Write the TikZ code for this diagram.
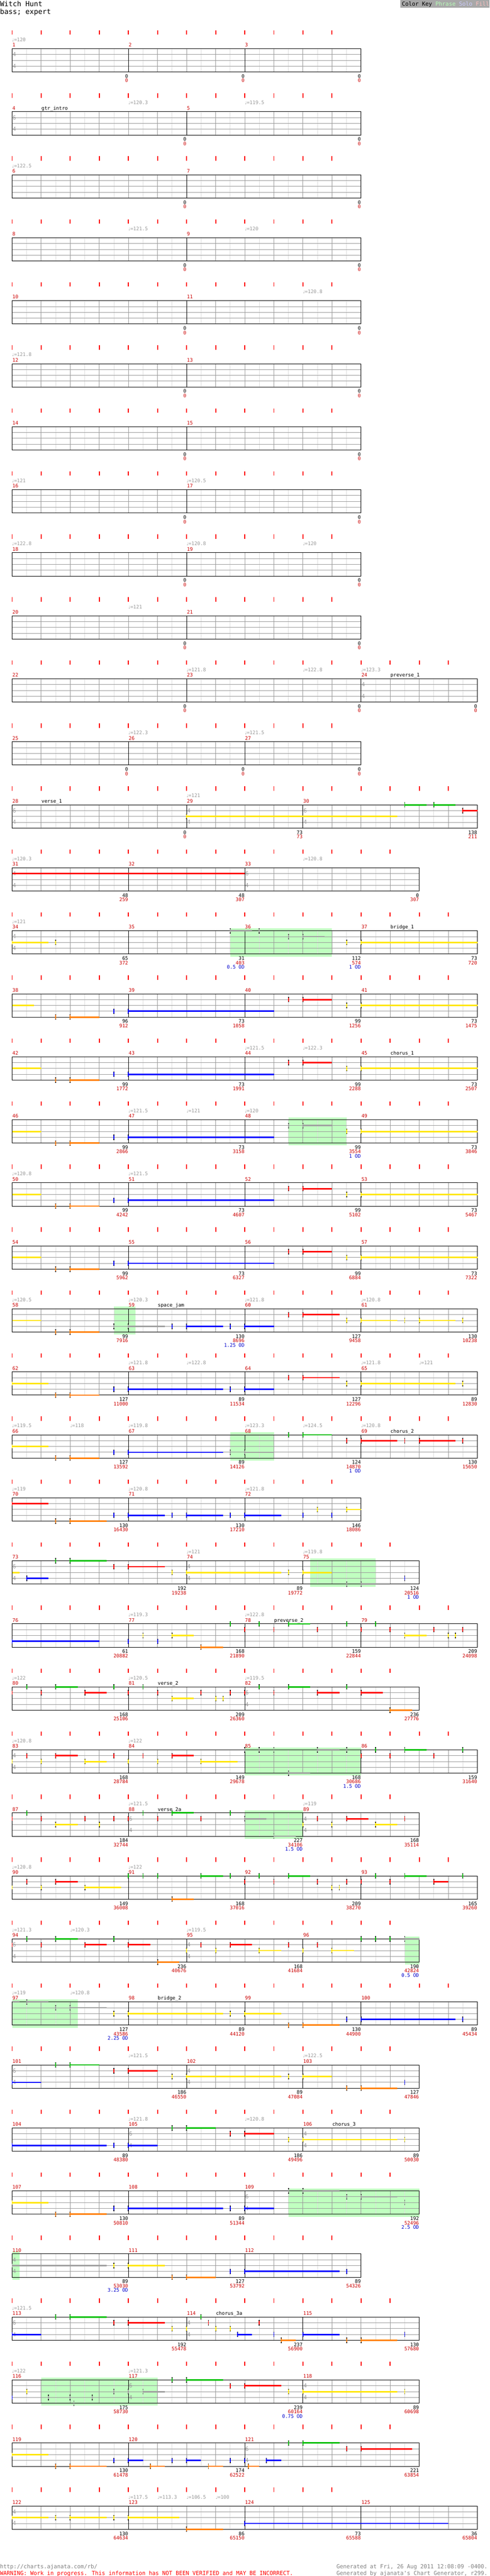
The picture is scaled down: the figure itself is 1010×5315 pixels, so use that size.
\documentclass[tikz,border=0pt]{standalone}
\usepackage{fontspec}
\newfontfamily\cf{DejaVu Sans Mono}
\newfontfamily\symf{DejaVu Sans}
\definecolor{gL}{HTML}{DDDDDD}
\definecolor{gM}{HTML}{999999}
\definecolor{tR}{HTML}{FF0000}
\definecolor{mR}{HTML}{CC0000}
\definecolor{gT}{HTML}{999999}
\definecolor{oB}{HTML}{0000CC}
\definecolor{phG}{HTML}{C0FFC0}
\definecolor{nG}{HTML}{00C000}
\definecolor{nR}{HTML}{FF0000}
\definecolor{nY}{HTML}{FFE600}
\definecolor{nB}{HTML}{0000FF}
\definecolor{nO}{HTML}{FF8000}
\definecolor{nS}{HTML}{A0A0A0}
\definecolor{keyBg}{HTML}{A8A8A8}
\definecolor{keyPh}{HTML}{B8FFB8}
\definecolor{keySo}{HTML}{CCCCFF}
\definecolor{keyFi}{HTML}{FFC0C0}
\definecolor{ftG}{HTML}{808080}
\tikzset{
 glight/.style={draw=gL, line width=1pt},
 gbeat/.style={draw=gM, line width=1pt},
 frame/.style={draw=black, line width=1pt},
 tickr/.style={draw=tR, line width=2pt},
 small/.style={inner sep=0pt, font=\cf\fontsize{10}{10}\selectfont},
 mnum/.style={small, anchor=base west, text=mR},
 tempo/.style={small, anchor=base west, text=gT},
 sect/.style={small, anchor=base west, text=black},
 tsig/.style={anchor=west, inner sep=0pt, text=gT, font=\cf\fontsize{11.5}{11.5}\selectfont},
 bnum/.style={small, anchor=base east, text=black},
 rnum/.style={small, anchor=base east, text=mR},
 onum/.style={small, anchor=base east, text=oB},
 phr/.style={fill=phG},
}
\newcommand\chRow[3]{\pgfmathsetmacro\ry{100.5+130*#1}\pgfmathsetmacro\rx{25+60*#2}\def\nb{#2}\def\nt{#3}}
\newcommand\chStaff{%
 \pgfmathtruncatemacro\nhb{2*\nb-1}%
 \foreach \i in {1,3,...,\nhb} \draw[glight] ({25+30*\i},\ry) -- ++(0,48);%
 \pgfmathtruncatemacro\nbm{\nb-1}%
 \foreach \i in {1,...,\nbm} \draw[gbeat] ({25+60*\i},\ry) -- ++(0,48);%
 \foreach \j in {12,24,36} \draw[gbeat] (25,\ry+\j) -- (\rx,\ry+\j);%
 \draw[frame] (25,\ry) rectangle (\rx,\ry+48);%
 \pgfmathtruncatemacro\ntm{\nt-1}%
 \foreach \i in {0,...,\ntm} \draw[tickr] ({25+60*\i},\ry-38) -- ++(0,9);%
}
\newcommand\chP[2]{\fill[phr] ({25+60*(#1)},\ry-5) rectangle ({25+60*(#2)},\ry+53);}
\newcommand\chM[2]{\draw[frame] ({25+60*(#1)},\ry) -- ++(0,48); \node[mnum] at ({25+60*(#1)+0.5},\ry-4) {#2};}
\newcommand\chT[2]{\node[tempo] at ({25+60*(#1)},\ry-15) {{\symf\fontsize{8}{8}\selectfont ♩}=#2};}
\newcommand\chS[2]{\node[sect] at ({25+60*(#1)+0.5},\ry-4) {#2};}
\newcommand\chTS[3]{\node[tsig] at ({25+60*(#1)+1},\ry+12) {#2}; \node[tsig] at ({25+60*(#1)+1},\ry+36) {#3};}
\newcommand\chB[3]{\node[bnum] at ({25+60*(#1)-0.5},\ry+60.5) {#2}; \node[rnum] at ({25+60*(#1)-0.5},\ry+69.5) {#3};}
\newcommand\chBO[4]{\chB{#1}{#2}{#3}\node[onum] at ({25+60*(#1)-0.5},\ry+78.5) {#4};}
\newcommand\chH[3]{\draw[line width=2pt, black] ({25+60*(#1)},\ry+12*#2-5.5) -- ++(0,11); \draw[line width=2pt, #3] ({25+60*(#1)},\ry+12*#2-4) -- ++(0,8);}
\newcommand\chU[4]{\draw[line width=3pt, #4] ({25+60*(#1)},\ry+12*#3) -- ({25+60*(#2)},\ry+12*#3);}
\newcommand\chN[4]{\chU{#1}{#2}{#3}{#4}\chH{#1}{#3}{#4}}
\newcommand\chPat{\chH{1.5}{4}{nO}\chN{2}{3}{4}{nO}\chH{3.5}{3}{nB}\chN{4}{9}{3}{nB}\chH{9.5}{1}{nR}\chN{10}{11}{1}{nR}\chH{11.5}{2}{nY}\chN{12}{16}{2}{nY}}
\begin{document}
\begin{tikzpicture}[x=1pt,y=-1pt]
\useasboundingbox (0,0) rectangle (1010,5315);
\fill[white] (0,0) rectangle (1010,5315);
% header
\node[anchor=base west, inner sep=0pt, font=\cf\fontsize{14.5}{14.5}\selectfont] (title) at (0,13.5) {Witch Hunt};
\node[anchor=base west, inner sep=0pt, font=\cf\fontsize{14.5}{14.5}\selectfont] (inst) at (0,29) {bass; expert};
\fill[keyBg] (826,0) rectangle (1010,16);
\node[anchor=base west, inner sep=0pt, font=\cf\fontsize{11.5}{11.5}\selectfont] (key) at (829,12) {Color Key \textcolor{keyPh}{Phrase} \textcolor{keySo}{Solo} \textcolor{keyFi}{Fill}};
% row 0
\chRow{0}{12}{12}\chStaff\chM{0}{1}\chM{4}{2}\chM{8}{3}\chTS{0}{4}{4}\chT{0}{120}\chB{4}{0}{0}\chB{8}{0}{0}\chB{12}{0}{0}
\chRow{1}{12}{12}\chStaff\chM{0}{4}\chM{6}{5}\chTS{0}{6}{4}\chT{4}{120.3}\chT{8}{119.5}\chS{1}{gtr\_intro}\chB{6}{0}{0}\chB{12}{0}{0}
\chRow{2}{12}{12}\chStaff\chM{0}{6}\chM{6}{7}\chT{0}{122.5}\chB{6}{0}{0}\chB{12}{0}{0}
\chRow{3}{12}{12}\chStaff\chM{0}{8}\chM{6}{9}\chT{4}{121.5}\chT{8}{120}\chB{6}{0}{0}\chB{12}{0}{0}
\chRow{4}{12}{12}\chStaff\chM{0}{10}\chM{6}{11}\chT{10}{120.8}\chB{6}{0}{0}\chB{12}{0}{0}
\chRow{5}{12}{12}\chStaff\chM{0}{12}\chM{6}{13}\chT{0}{121.8}\chB{6}{0}{0}\chB{12}{0}{0}
\chRow{6}{12}{12}\chStaff\chM{0}{14}\chM{6}{15}\chB{6}{0}{0}\chB{12}{0}{0}
\chRow{7}{12}{12}\chStaff\chM{0}{16}\chM{6}{17}\chT{0}{121}\chT{6}{120.5}\chB{6}{0}{0}\chB{12}{0}{0}
\chRow{8}{12}{12}\chStaff\chM{0}{18}\chM{6}{19}\chT{0}{122.8}\chT{6}{120.8}\chT{10}{120}\chB{6}{0}{0}\chB{12}{0}{0}
\chRow{9}{12}{12}\chStaff\chM{0}{20}\chM{6}{21}\chT{4}{121}\chB{6}{0}{0}\chB{12}{0}{0}
\chRow{10}{16}{16}\chStaff\chM{0}{22}\chM{6}{23}\chM{12}{24}\chTS{12}{4}{4}\chT{6}{121.8}\chT{10}{122.8}\chT{12}{123.3}\chS{13}{preverse\_1}\chB{6}{0}{0}\chB{12}{0}{0}\chB{16}{0}{0}
\chRow{11}{12}{12}\chStaff\chM{0}{25}\chM{4}{26}\chM{8}{27}\chT{4}{122.3}\chT{8}{121.5}\chB{4}{0}{0}\chB{8}{0}{0}\chB{12}{0}{0}
% row 12
\chRow{12}{16}{16}\chStaff\chM{0}{28}\chM{6}{29}\chM{10}{30}\chTS{0}{6}{4}\chTS{6}{4}{4}\chTS{10}{6}{4}\chT{6}{121}\chS{1}{verse\_1}
\chN{6}{13.25}{2}{nY}\chN{13.5}{14.25}{0}{nG}\chN{14.5}{15.25}{0}{nG}\chN{15.5}{16}{1}{nR}
\chB{6}{0}{0}\chB{10}{73}{73}\chB{16}{138}{211}
% row 13
\chRow{13}{14}{14}\chStaff\chM{0}{31}\chM{4}{32}\chM{8}{33}\chTS{0}{4}{4}\chTS{8}{6}{4}\chT{0}{120.3}\chT{10}{120.8}
\chU{0}{8}{1}{nR}
\chB{4}{48}{259}\chB{8}{48}{307}\chB{14}{0}{307}
% row 14
\chRow{14}{16}{16}\chP{7.5}{11}\chStaff\chM{0}{34}\chM{4}{35}\chM{8}{36}\chM{12}{37}\chTS{0}{4}{4}\chT{0}{121}\chS{13}{bridge\_1}
\chN{0}{1.25}{2}{nY}\chH{1.5}{2}{nY}\chN{7.5}{8.25}{0}{nS}\chH{8.5}{0}{nS}\chH{9.5}{1}{nS}\chN{10}{10.75}{1}{nS}\chH{11.5}{2}{nY}\chN{12}{16}{2}{nY}
\chB{4}{65}{372}\chBO{8}{31}{403}{0.5 OD}\chBO{12}{112}{574}{1 OD}\chB{16}{73}{720}
% row 15
\chRow{15}{16}{16}\chStaff\chM{0}{38}\chM{4}{39}\chM{8}{40}\chM{12}{41}
\chU{0}{0.75}{2}{nY}\chPat
\chB{4}{96}{912}\chB{8}{73}{1058}\chB{12}{99}{1256}\chB{16}{73}{1475}
% row 16
\chRow{16}{16}{16}\chStaff\chM{0}{42}\chM{4}{43}\chM{8}{44}\chM{12}{45}\chT{8}{121.5}\chT{10}{122.3}\chS{13}{chorus\_1}
\chU{0}{1}{2}{nY}\chPat
\chB{4}{99}{1772}\chB{8}{73}{1991}\chB{12}{99}{2288}\chB{16}{73}{2507}
% row 17
\chRow{17}{16}{16}\chP{9.5}{11.5}\chStaff\chM{0}{46}\chM{4}{47}\chM{8}{48}\chM{12}{49}\chT{4}{121.5}\chT{6}{121}\chT{8}{120}
\chU{0}{1}{2}{nY}\chH{1.5}{4}{nO}\chN{2}{3}{4}{nO}\chH{3.5}{3}{nB}\chN{4}{9}{3}{nB}\chH{9.5}{1}{nS}\chN{10}{11}{1}{nS}\chH{11.5}{2}{nY}\chN{12}{16}{2}{nY}
\chB{4}{99}{2866}\chB{8}{73}{3158}\chBO{12}{99}{3554}{1 OD}\chB{16}{73}{3846}
% row 18
\chRow{18}{16}{16}\chStaff\chM{0}{50}\chM{4}{51}\chM{8}{52}\chM{12}{53}\chT{0}{120.8}\chT{4}{121.5}
\chU{0}{1}{2}{nY}\chPat
\chB{4}{99}{4242}\chB{8}{73}{4607}\chB{12}{99}{5102}\chB{16}{73}{5467}
% row 19
\chRow{19}{16}{16}\chStaff\chM{0}{54}\chM{4}{55}\chM{8}{56}\chM{12}{57}
\chU{0}{1}{2}{nY}\chPat
\chB{4}{99}{5962}\chB{8}{73}{6327}\chB{12}{99}{6884}\chB{16}{73}{7322}
% row 20
\chRow{20}{16}{16}\chP{3.5}{4.25}\chStaff\chM{0}{58}\chM{4}{59}\chM{8}{60}\chM{12}{61}\chT{0}{120.5}\chT{4}{120.3}\chT{8}{121.8}\chT{12}{120.8}\chS{5}{space\_jam}
\chU{0}{1}{2}{nY}\chH{1.5}{4}{nO}\chN{2}{3}{4}{nO}\chH{3.5}{3}{nS}\chN{4}{5.25}{3}{nS}\chH{5.5}{3}{nB}\chN{6}{7.25}{3}{nB}\chH{7.5}{3}{nB}\chN{8}{9}{3}{nB}
\chH{9.5}{1}{nR}\chN{10}{11.25}{1}{nR}\chH{11.5}{2}{nY}\chN{12}{13.25}{2}{nY}\chH{13.5}{2}{nY}\chN{14}{15.25}{2}{nY}\chH{15.5}{2}{nY}
\chB{4}{99}{7916}\chBO{8}{130}{8696}{1.25 OD}\chB{12}{127}{9458}\chB{16}{130}{10238}
% row 21
\chRow{21}{16}{16}\chStaff\chM{0}{62}\chM{4}{63}\chM{8}{64}\chM{12}{65}\chT{4}{121.8}\chT{6}{122.8}\chT{12}{121.8}\chT{14}{121}
\chN{0}{1.25}{2}{nY}\chH{1.5}{4}{nO}\chN{2}{3}{4}{nO}\chH{3.5}{3}{nB}\chN{4}{7.25}{3}{nB}\chH{7.5}{3}{nB}\chN{8}{9}{3}{nB}\chH{9.5}{1}{nR}\chN{10}{11.25}{1}{nR}\chH{11.5}{2}{nY}\chN{12}{15.25}{2}{nY}\chH{15.5}{2}{nY}
\chB{4}{127}{11000}\chB{8}{89}{11534}\chB{12}{127}{12296}\chB{16}{89}{12830}
% row 22
\chRow{22}{16}{16}\chP{7.5}{9}\chStaff\chM{0}{66}\chM{4}{67}\chM{8}{68}\chM{12}{69}\chT{0}{119.5}\chT{2}{118}\chT{4}{119.8}\chT{8}{123.3}\chT{10}{124.5}\chT{12}{120.8}\chS{13}{chorus\_2}
\chN{0}{1.25}{2}{nY}\chH{1.5}{4}{nO}\chN{2}{3}{4}{nO}\chH{3.5}{3}{nB}\chN{4}{7.25}{3}{nB}\chH{7.5}{3}{nS}\chN{8}{9}{3}{nS}\chH{9.5}{0}{nG}\chN{10}{11}{0}{nG}\chH{11.5}{1}{nR}\chN{12}{13.25}{1}{nR}\chH{13.5}{1}{nR}\chN{14}{15.25}{1}{nR}\chH{15.5}{1}{nR}
\chB{4}{127}{13592}\chB{8}{89}{14126}\chBO{12}{124}{14870}{1 OD}\chB{16}{130}{15650}
% row 23
\chRow{23}{12}{12}\chStaff\chM{0}{70}\chM{4}{71}\chM{8}{72}\chT{0}{119}\chT{4}{120.8}\chT{8}{121.8}
\chN{0}{1.25}{1}{nR}\chH{1.5}{4}{nO}\chN{2}{3.25}{4}{nO}\chH{3.5}{3}{nB}\chN{4}{5.25}{3}{nB}\chH{5.5}{3}{nB}\chN{6}{7.25}{3}{nB}\chH{7.5}{3}{nB}\chN{8}{9.25}{3}{nB}\chH{10}{3}{nB}\chH{10.5}{2}{nY}\chH{11}{3}{nB}\chN{11.5}{12}{2}{nY}
\chB{4}{130}{16430}\chB{8}{130}{17210}\chB{12}{146}{18086}
% row 24
\chRow{24}{14}{14}\chP{10.25}{12.5}\chStaff\chM{0}{73}\chM{6}{74}\chM{10}{75}\chTS{0}{6}{4}\chTS{6}{4}{4}\chT{6}{121}\chT{10}{119.8}
\chU{0}{0.25}{2}{nY}\chN{0.5}{1.25}{3}{nB}\chH{1.5}{0}{nG}\chN{2}{3.25}{0}{nG}\chH{3.5}{1}{nR}\chN{4}{5.25}{1}{nR}\chH{5.5}{2}{nY}\chN{6}{9.25}{2}{nY}\chH{9.5}{2}{nY}\chN{10}{11}{2}{nY}\chH{11.5}{4}{nS}\chN{12}{13}{4}{nS}\chH{13.5}{3}{nB}
\chB{6}{192}{19238}\chB{10}{89}{19772}\chBO{14}{124}{20516}{1 OD}
% row 25
\chRow{25}{16}{16}\chStaff\chM{0}{76}\chM{4}{77}\chM{8}{78}\chM{12}{79}\chT{4}{119.3}\chT{8}{122.8}\chS{9}{preverse\_2}
\chN{0}{3}{3}{nB}\chH{4}{3}{nB}\chH{4.5}{2}{nY}\chH{5}{3}{nB}\chN{5.5}{6.25}{2}{nY}\chN{6.5}{7.25}{4}{nO}\chH{7.5}{0}{nG}\chH{8}{1}{nR}\chH{8.5}{0}{nG}\chH{9}{1}{nR}\chN{9.5}{10.25}{0}{nG}\chH{10.5}{1}{nR}\chH{11.5}{0}{nG}\chH{12}{1}{nR}\chH{12.5}{0}{nG}\chH{13}{1}{nR}\chN{13.5}{14.25}{2}{nY}\chH{14.5}{1}{nR}\chH{15}{2}{nY}\chH{15.25}{2}{nY}\chH{15.5}{1}{nR}
\chB{4}{61}{20882}\chB{8}{168}{21890}\chB{12}{159}{22844}\chB{16}{209}{24098}
% row 26
\chRow{26}{14}{14}\chStaff\chM{0}{80}\chM{4}{81}\chM{8}{82}\chTS{8}{6}{4}\chT{0}{122}\chT{4}{120.5}\chT{8}{119.5}\chS{5}{verse\_2}
\chH{0}{1}{nR}\chH{0.5}{0}{nG}\chH{1}{1}{nR}\chN{1.5}{2.25}{0}{nG}\chN{2.5}{3.25}{1}{nR}\chH{3.5}{0}{nG}\chH{4}{1}{nR}\chH{4.5}{0}{nG}\chH{5}{1}{nR}\chN{5.5}{6.25}{2}{nY}\chH{6.5}{1}{nR}\chH{7}{2}{nY}\chH{7.25}{2}{nY}\chH{7.5}{1}{nR}\chH{8}{1}{nR}\chH{8.5}{0}{nG}\chH{9}{1}{nR}\chN{9.5}{10.25}{0}{nG}\chN{10.5}{11.25}{1}{nR}\chH{11.5}{0}{nG}\chN{12}{12.75}{1}{nR}\chN{13}{13.75}{4}{nO}
\chB{4}{168}{25106}\chB{8}{209}{26360}\chB{14}{236}{27776}
% row 27
\chRow{27}{16}{16}\chP{8}{12}\chStaff\chM{0}{83}\chM{4}{84}\chM{8}{85}\chM{12}{86}\chTS{0}{4}{4}\chT{0}{120.8}\chT{4}{122}
\chH{0}{2}{nY}\chH{0.5}{1}{nR}\chH{1}{2}{nY}\chN{1.5}{2.25}{1}{nR}\chN{2.5}{3.25}{2}{nY}\chH{3.5}{1}{nR}\chH{4}{2}{nY}\chH{4.5}{1}{nR}\chH{5}{2}{nY}\chN{5.5}{6.25}{1}{nR}\chN{6.5}{7.75}{2}{nY}\chH{8}{0}{nS}\chH{8.5}{0}{nS}\chH{9}{0}{nS}\chN{9.5}{10.25}{4}{nS}\chN{10.5}{11.25}{0}{nS}\chH{11.5}{0}{nS}\chH{12}{1}{nR}\chH{12.5}{0}{nG}\chH{13}{1}{nR}\chN{13.5}{14.25}{0}{nG}\chH{14.5}{1}{nR}\chH{15.5}{0}{nG}
\chB{4}{168}{28784}\chB{8}{149}{29678}\chBO{12}{168}{30686}{1.5 OD}\chB{16}{159}{31640}
% row 28
\chRow{28}{14}{14}\chP{8}{10}\chStaff\chM{0}{87}\chM{4}{88}\chM{10}{89}\chTS{4}{6}{4}\chTS{10}{4}{4}\chT{4}{121.5}\chT{10}{119}\chS{5}{verse\_2a}
\chH{0}{1}{nR}\chH{0.5}{0}{nG}\chH{1}{1}{nR}\chN{1.5}{2.25}{2}{nY}\chH{2.5}{1}{nR}\chH{3}{2}{nY}\chH{3.5}{1}{nR}\chH{4}{1}{nR}\chH{4.5}{0}{nG}\chH{5}{1}{nR}\chN{5.5}{6.25}{0}{nG}\chH{6.5}{1}{nR}\chH{7.5}{0}{nG}\chN{8}{8.75}{1}{nS}\chN{9}{9.75}{4}{nS}\chH{10}{2}{nY}\chH{10.5}{1}{nR}\chH{11}{2}{nY}\chN{11.5}{12.25}{1}{nR}\chN{12.5}{13.25}{2}{nY}\chH{13.5}{1}{nR}
\chB{4}{184}{32744}\chBO{10}{227}{34106}{1.5 OD}\chB{14}{168}{35114}
% row 29
\chRow{29}{16}{16}\chStaff\chM{0}{90}\chM{4}{91}\chM{8}{92}\chM{12}{93}\chT{0}{120.8}\chT{4}{122}
\chH{0}{2}{nY}\chH{0.5}{1}{nR}\chH{1}{2}{nY}\chN{1.5}{2.25}{1}{nR}\chN{2.5}{3.75}{2}{nY}\chH{4}{0}{nG}\chH{4.5}{0}{nG}\chH{5}{0}{nG}\chN{5.5}{6.25}{4}{nO}\chN{6.5}{7.25}{0}{nG}\chH{7.5}{0}{nG}\chH{8}{1}{nR}\chH{8.5}{0}{nG}\chH{9}{1}{nR}\chN{9.5}{10.25}{0}{nG}\chH{10.5}{1}{nR}\chH{11}{2}{nY}\chH{11.25}{2}{nY}\chH{11.5}{1}{nR}\chH{12}{1}{nR}\chH{12.5}{0}{nG}\chH{13}{1}{nR}\chN{13.5}{14.25}{0}{nG}\chN{14.5}{15}{1}{nR}\chH{15.5}{0}{nG}
\chB{4}{149}{36008}\chB{8}{168}{37016}\chB{12}{209}{38270}\chB{16}{165}{39260}
% row 30
\chRow{30}{14}{14}\chP{13.5}{14}\chStaff\chM{0}{94}\chM{6}{95}\chM{10}{96}\chTS{0}{6}{4}\chTS{6}{4}{4}\chT{0}{121.3}\chT{2}{120.3}\chT{6}{119.5}
\chH{0}{1}{nR}\chH{0.5}{0}{nG}\chH{1}{1}{nR}\chN{1.5}{2.25}{0}{nG}\chN{2.5}{3.25}{1}{nR}\chH{3.5}{0}{nG}\chN{4}{4.75}{1}{nR}\chN{5}{5.75}{4}{nO}\chH{6}{2}{nY}\chH{6.5}{1}{nR}\chH{7}{2}{nY}\chN{7.5}{8.25}{1}{nR}\chN{8.5}{9.25}{2}{nY}\chH{9.5}{1}{nR}\chH{10}{2}{nY}\chH{10.5}{1}{nR}\chN{11}{11.75}{2}{nY}\chH{12}{0}{nG}\chH{12.5}{0}{nG}\chH{13}{0}{nG}\chN{13.5}{14}{0}{nS}
\chB{6}{236}{40676}\chB{10}{168}{41684}\chBO{14}{190}{42824}{0.5 OD}
% row 31
\chRow{31}{16}{16}\chP{0}{2.25}\chStaff\chM{0}{97}\chM{4}{98}\chM{8}{99}\chM{12}{100}\chT{0}{119}\chT{2}{120.8}\chS{5}{bridge\_2}
\chU{0}{0.25}{0}{nS}\chN{0.5}{1.25}{0}{nS}\chH{1.5}{1}{nS}\chN{2}{3.25}{1}{nS}\chH{3.5}{2}{nY}\chN{4}{7.25}{2}{nY}\chH{7.5}{2}{nY}\chN{8}{9.25}{2}{nY}\chH{9.5}{4}{nO}\chN{10}{11.25}{4}{nO}\chH{11.5}{3}{nB}\chN{12}{15.25}{3}{nB}\chH{15.5}{3}{nB}
\chBO{4}{127}{43586}{2.25 OD}\chB{8}{89}{44120}\chB{12}{130}{44900}\chB{16}{89}{45434}
% row 32
\chRow{32}{14}{14}\chStaff\chM{0}{101}\chM{6}{102}\chM{10}{103}\chTS{0}{6}{4}\chTS{6}{4}{4}\chT{4}{121.5}\chT{10}{122.5}
\chN{0}{1}{3}{nB}\chH{1.5}{0}{nG}\chN{2}{3}{0}{nG}\chH{3.5}{1}{nR}\chN{4}{5}{1}{nR}\chH{5.5}{2}{nY}\chN{6}{9.25}{2}{nY}\chH{9.5}{2}{nY}\chN{10}{11}{2}{nY}\chH{11.5}{4}{nO}\chN{12}{13.25}{4}{nO}\chH{13.5}{3}{nB}
\chB{6}{186}{46550}\chB{10}{89}{47084}\chB{14}{127}{47846}
% row 33
\chRow{33}{14}{14}\chStaff\chM{0}{104}\chM{4}{105}\chM{10}{106}\chTS{4}{6}{4}\chTS{10}{4}{4}\chT{4}{121.8}\chT{8}{120.8}\chS{11}{chorus\_3}
\chN{0}{3.25}{3}{nB}\chH{3.5}{3}{nB}\chN{4}{5}{3}{nB}\chH{5.5}{0}{nG}\chN{6}{7}{0}{nG}\chH{7.5}{1}{nR}\chN{8}{9}{1}{nR}\chH{9.5}{2}{nY}\chN{10}{13.25}{2}{nY}\chH{13.5}{2}{nY}
\chB{4}{89}{48380}\chB{10}{186}{49496}\chB{14}{89}{50030}
% row 34
\chRow{34}{14}{14}\chP{9.5}{14}\chStaff\chM{0}{107}\chM{4}{108}\chM{8}{109}\chTS{8}{6}{4}
\chN{0}{1.25}{2}{nY}\chH{1.5}{4}{nO}\chN{2}{3.25}{4}{nO}\chH{3.5}{3}{nB}\chN{4}{7.25}{3}{nB}\chH{7.5}{3}{nB}\chN{8}{9}{3}{nB}\chH{9.5}{0}{nS}\chN{10}{11.25}{0}{nS}\chH{11.5}{1}{nS}\chN{12}{13.25}{1}{nS}\chH{13.5}{2}{nS}
\chB{4}{130}{50810}\chB{8}{89}{51344}\chBO{14}{192}{52496}{2.5 OD}
% row 35
\chRow{35}{12}{12}\chP{0}{0.25}\chStaff\chM{0}{110}\chM{4}{111}\chM{8}{112}\chTS{0}{4}{4}
\chN{0}{3.25}{2}{nS}\chH{3.5}{2}{nY}\chN{4}{5.25}{2}{nY}\chH{5.5}{4}{nO}\chN{6}{7}{4}{nO}\chH{7.5}{3}{nB}\chN{8}{11.25}{3}{nB}\chH{11.5}{3}{nB}
\chBO{4}{89}{53030}{3.25 OD}\chB{8}{127}{53792}\chB{12}{89}{54326}
% row 36
\chRow{36}{14}{14}\chStaff\chM{0}{113}\chM{6}{114}\chM{10}{115}\chTS{0}{6}{4}\chTS{6}{4}{4}\chT{0}{121.5}\chS{7}{chorus\_3a}
\chN{0}{1}{3}{nB}\chH{1.5}{0}{nG}\chN{2}{3.25}{0}{nG}\chH{3.5}{1}{nR}\chN{4}{5.25}{1}{nR}\chH{5.5}{2}{nY}\chH{6}{2}{nY}\chH{6.5}{0}{nG}\chH{6.75}{1}{nR}\chH{7}{2}{nY}\chH{7.5}{2}{nY}\chN{7.75}{8.25}{3}{nB}\chH{8.5}{1}{nR}\chH{9}{3}{nB}\chN{9.25}{9.75}{4}{nO}\chN{10}{11.25}{3}{nB}\chH{11.5}{4}{nO}\chN{12}{13.25}{4}{nO}\chH{13.5}{3}{nB}
\chB{6}{192}{55478}\chB{10}{237}{56900}\chB{14}{130}{57680}
% row 37
\chRow{37}{14}{14}\chP{1}{5}\chStaff\chM{0}{116}\chM{4}{117}\chM{10}{118}\chTS{4}{6}{4}\chTS{10}{4}{4}\chT{0}{122}\chT{4}{121.3}
\chH{0}{3}{nB}\chH{0.5}{2}{nY}\chH{1.25}{3}{nS}\chH{2}{3}{nS}\chH{2.125}{4}{nS}\chH{2.75}{3}{nS}\chH{3.5}{2}{nS}\chH{4}{2}{nS}\chN{4.5}{5.25}{2}{nS}\chH{5.5}{0}{nG}\chN{6}{7.25}{0}{nG}\chH{7.5}{1}{nR}\chN{8}{9.25}{1}{nR}\chH{9.5}{2}{nY}\chN{10}{13.25}{2}{nY}\chH{13.5}{2}{nY}
\chB{4}{175}{58730}\chBO{10}{239}{60164}{0.75 OD}\chB{14}{89}{60698}
% row 38
\chRow{38}{14}{14}\chStaff\chM{0}{119}\chM{4}{120}\chM{8}{121}\chTS{8}{6}{4}
\chN{0}{1.25}{2}{nY}\chH{1.5}{4}{nO}\chN{2}{3.25}{4}{nO}\chH{3.5}{3}{nB}\chN{4}{4.5}{3}{nB}\chN{4.75}{5.25}{4}{nO}\chH{5.5}{3}{nB}\chN{6}{6.5}{3}{nB}\chN{6.75}{7.25}{4}{nO}\chH{7.5}{3}{nB}\chH{8}{3}{nB}\chN{8.125}{8.5}{4}{nO}\chN{8.75}{9.25}{3}{nB}\chH{9.5}{0}{nG}\chN{10}{11.25}{0}{nG}\chH{11.5}{1}{nR}\chN{12}{13.75}{1}{nR}
\chB{4}{130}{61478}\chB{8}{174}{62522}\chB{14}{221}{63854}
% row 39
\chRow{39}{16}{12}\chStaff\chM{0}{122}\chM{4}{123}\chM{8}{124}\chM{12}{125}\chTS{0}{4}{4}\chT{4}{117.5}\chT{5}{113.3}\chT{6}{106.5}\chT{7}{100}
\chN{0}{1.25}{2}{nY}\chH{1.5}{2}{nY}\chN{2}{3.25}{2}{nY}\chH{3.5}{2}{nY}\chN{4}{5.75}{2}{nY}\chN{6}{7.25}{4}{nO}\chN{8}{15}{3}{nB}
\chB{4}{130}{64634}\chB{8}{86}{65150}\chB{12}{73}{65588}\chB{16}{36}{65804}
% footer
\node[anchor=base west, inner sep=0pt, text=ftG, font=\cf\fontsize{11.5}{11.5}\selectfont] (url) at (0,5299) {http://charts.ajanata.com/rb/};
\node[anchor=base west, inner sep=0pt, text=tR, font=\cf\fontsize{11.5}{11.5}\selectfont] (warn) at (0,5313) {WARNING: Work in progress. This information has NOT BEEN VERIFIED and MAY BE INCORRECT.};
\node[anchor=base east, inner sep=0pt, text=ftG, font=\cf\fontsize{11.5}{11.5}\selectfont] (gen1) at (1006,5299) {Generated at Fri, 26 Aug 2011 12:08:09 -0400.};
\node[anchor=base east, inner sep=0pt, text=ftG, font=\cf\fontsize{11.5}{11.5}\selectfont] (gen2) at (1006,5313) {Generated by ajanata's Chart Generator, r299.};
\end{tikzpicture}
\end{document}
